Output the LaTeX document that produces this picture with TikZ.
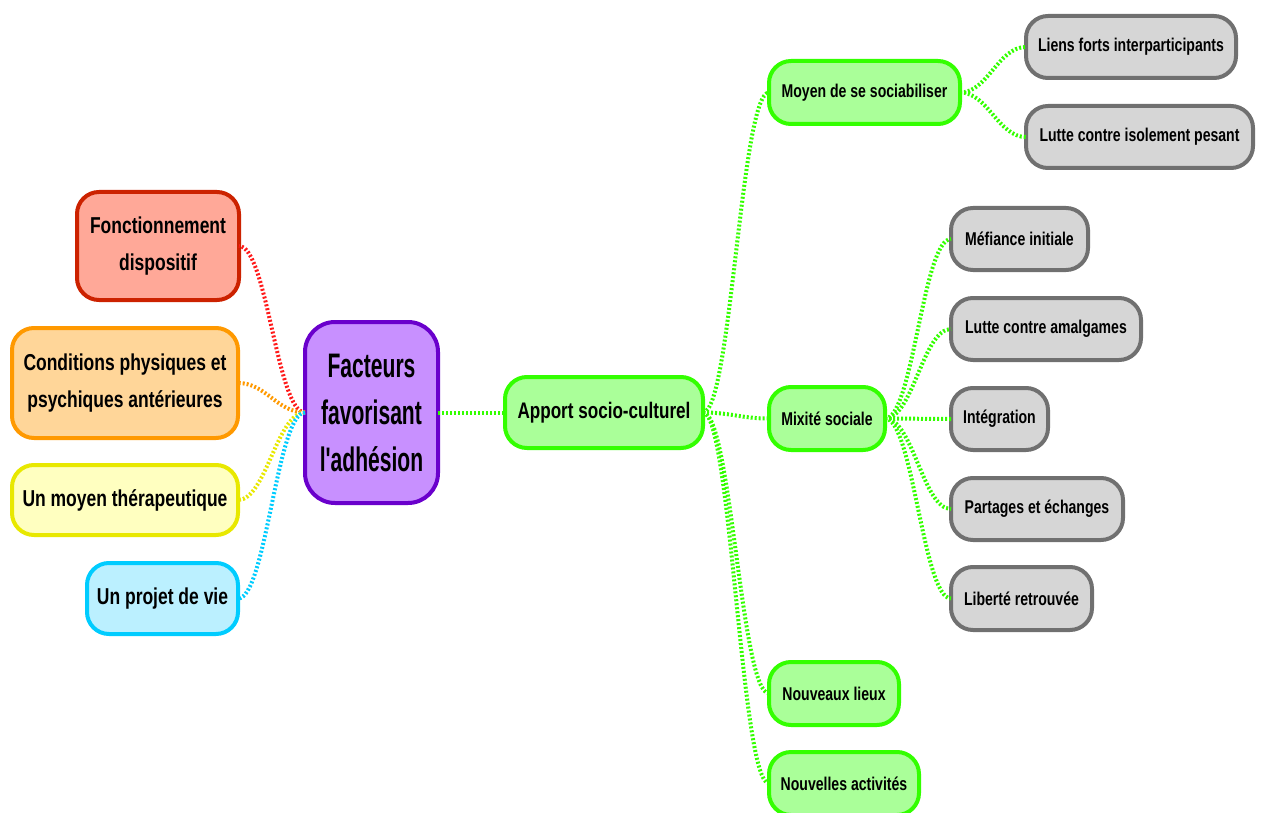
\documentclass[tikz,border=0pt]{standalone}
\usepackage{fontspec}
\setmainfont{Liberation Sans}[FakeStretch=0.76]
\newfontfamily\narrowfont{Liberation Sans}[FakeStretch=0.62,Ligatures=TeXOff]
\usepackage{tikz}
\definecolor{purpF}{HTML}{C890FF}\definecolor{purpD}{HTML}{6A00CC}
\definecolor{redF}{HTML}{FFA898}\definecolor{redD}{HTML}{CC2200}\definecolor{redL}{HTML}{FF1A1A}
\definecolor{oraF}{HTML}{FFD699}\definecolor{oraD}{HTML}{FF9900}
\definecolor{yelF}{HTML}{FFFFC0}\definecolor{yelD}{HTML}{E8E800}
\definecolor{cyaF}{HTML}{BBF0FF}\definecolor{cyaD}{HTML}{00CCFF}
\definecolor{grnF}{HTML}{AAFF99}\definecolor{grnD}{HTML}{33FF00}
\definecolor{gryF}{HTML}{D6D6D6}\definecolor{gryD}{HTML}{707070}

\begin{document}
\begin{tikzpicture}[x=1pt,y=-1pt,
  box/.style={draw,line width=4pt,rounded corners=22pt,align=center,
    font=\bfseries\fontsize{18.5}{22}\selectfont,inner sep=0pt,outer sep=0pt},
  dim/.style 2 args={minimum width=#1pt-4pt,minimum height=#2pt-4pt},
  lnk/.style={line width=4pt,dash pattern=on 2pt off 2pt,#1},
  rgt/.style={out=0,in=180,out distance=28pt,in distance=28pt},
  lft/.style={out=180,in=0,out distance=28pt,in distance=28pt},
  grn/.style={box,fill=grnF,draw=grnD},
  gry/.style={box,fill=gryF,draw=gryD},
  big/.style={font=\bfseries\fontsize{23}{37}\selectfont}]
\useasboundingbox (0,0) rectangle (1263,813);
% centre
\node[box,fill=purpF,draw=purpD,rounded corners=30pt,dim={137}{185},
  font=\narrowfont\bfseries\fontsize{34}{47}\selectfont] (C) at (371.5,412.5)
  {Facteurs\\favorisant\\l'adh\'esion};
% left branch
\node[box,big,fill=redF,draw=redD,dim={166}{112}] (F) at (158,246) {Fonctionnement\\dispositif};
\node[box,big,fill=oraF,draw=oraD,dim={230}{114}] (P) at (125,383) {Conditions physiques et\\psychiques ant\'erieures};
\node[box,big,fill=yelF,draw=yelD,dim={230}{74}] (T) at (125,500) {Un moyen th\'erapeutique};
\node[box,big,fill=cyaF,draw=cyaD,dim={155}{75}] (V) at (162.5,598.5) {Un projet de vie};
% right branch
\node[grn,font=\bfseries\fontsize{22.5}{26}\selectfont,dim={202}{75}] (A) at (604,412.5) {Apport socio-culturel};
\node[grn,dim={195}{67}] (S) at (864.5,92.5) {Moyen de se sociabiliser};
\node[grn,dim={120}{67}] (M) at (827,418.5) {Mixit\'e sociale};
\node[grn,dim={134}{67}] (L) at (834,693.5) {Nouveaux lieux};
\node[grn,dim={154}{67}] (N) at (844,783.5) {Nouvelles activit\'es};
\node[gry,dim={214}{66}] (S1) at (1131,47) {Liens forts interparticipants};
\node[gry,dim={231}{66}] (S2) at (1139.5,137) {Lutte contre isolement pesant};
\node[gry,dim={141}{66}] (M1) at (1019.5,239) {M\'efiance initiale};
\node[gry,dim={194}{66}] (M2) at (1046,329) {Lutte contre amalgames};
\node[gry,dim={101}{66}] (M3) at (999.5,419) {Int\'egration};
\node[gry,dim={176}{66}] (M4) at (1037,509) {Partages et \'echanges};
\node[gry,dim={145}{67}] (M5) at (1021.5,598.5) {Libert\'e retrouv\'ee};
% links
\draw[lnk=redL] (C.west) to[lft] (F.east);
\draw[lnk=oraD] (C.west) to[lft] (P.east);
\draw[lnk=yelD] (C.west) to[lft] (T.east);
\draw[lnk=cyaD] (C.west) to[lft] (V.east);
\draw[lnk=grnD] (C.east) -- (A.west);
\foreach \n in {S,M,L,N}
  \draw[lnk=grnD] (A.east) to[rgt] (\n.west);
\foreach \n in {S1,S2}
  \draw[lnk=grnD] (S.east) to[rgt] (\n.west);
\foreach \n in {M1,M2,M3,M4,M5}
  \draw[lnk=grnD] (M.east) to[rgt] (\n.west);
\end{tikzpicture}
\end{document}
